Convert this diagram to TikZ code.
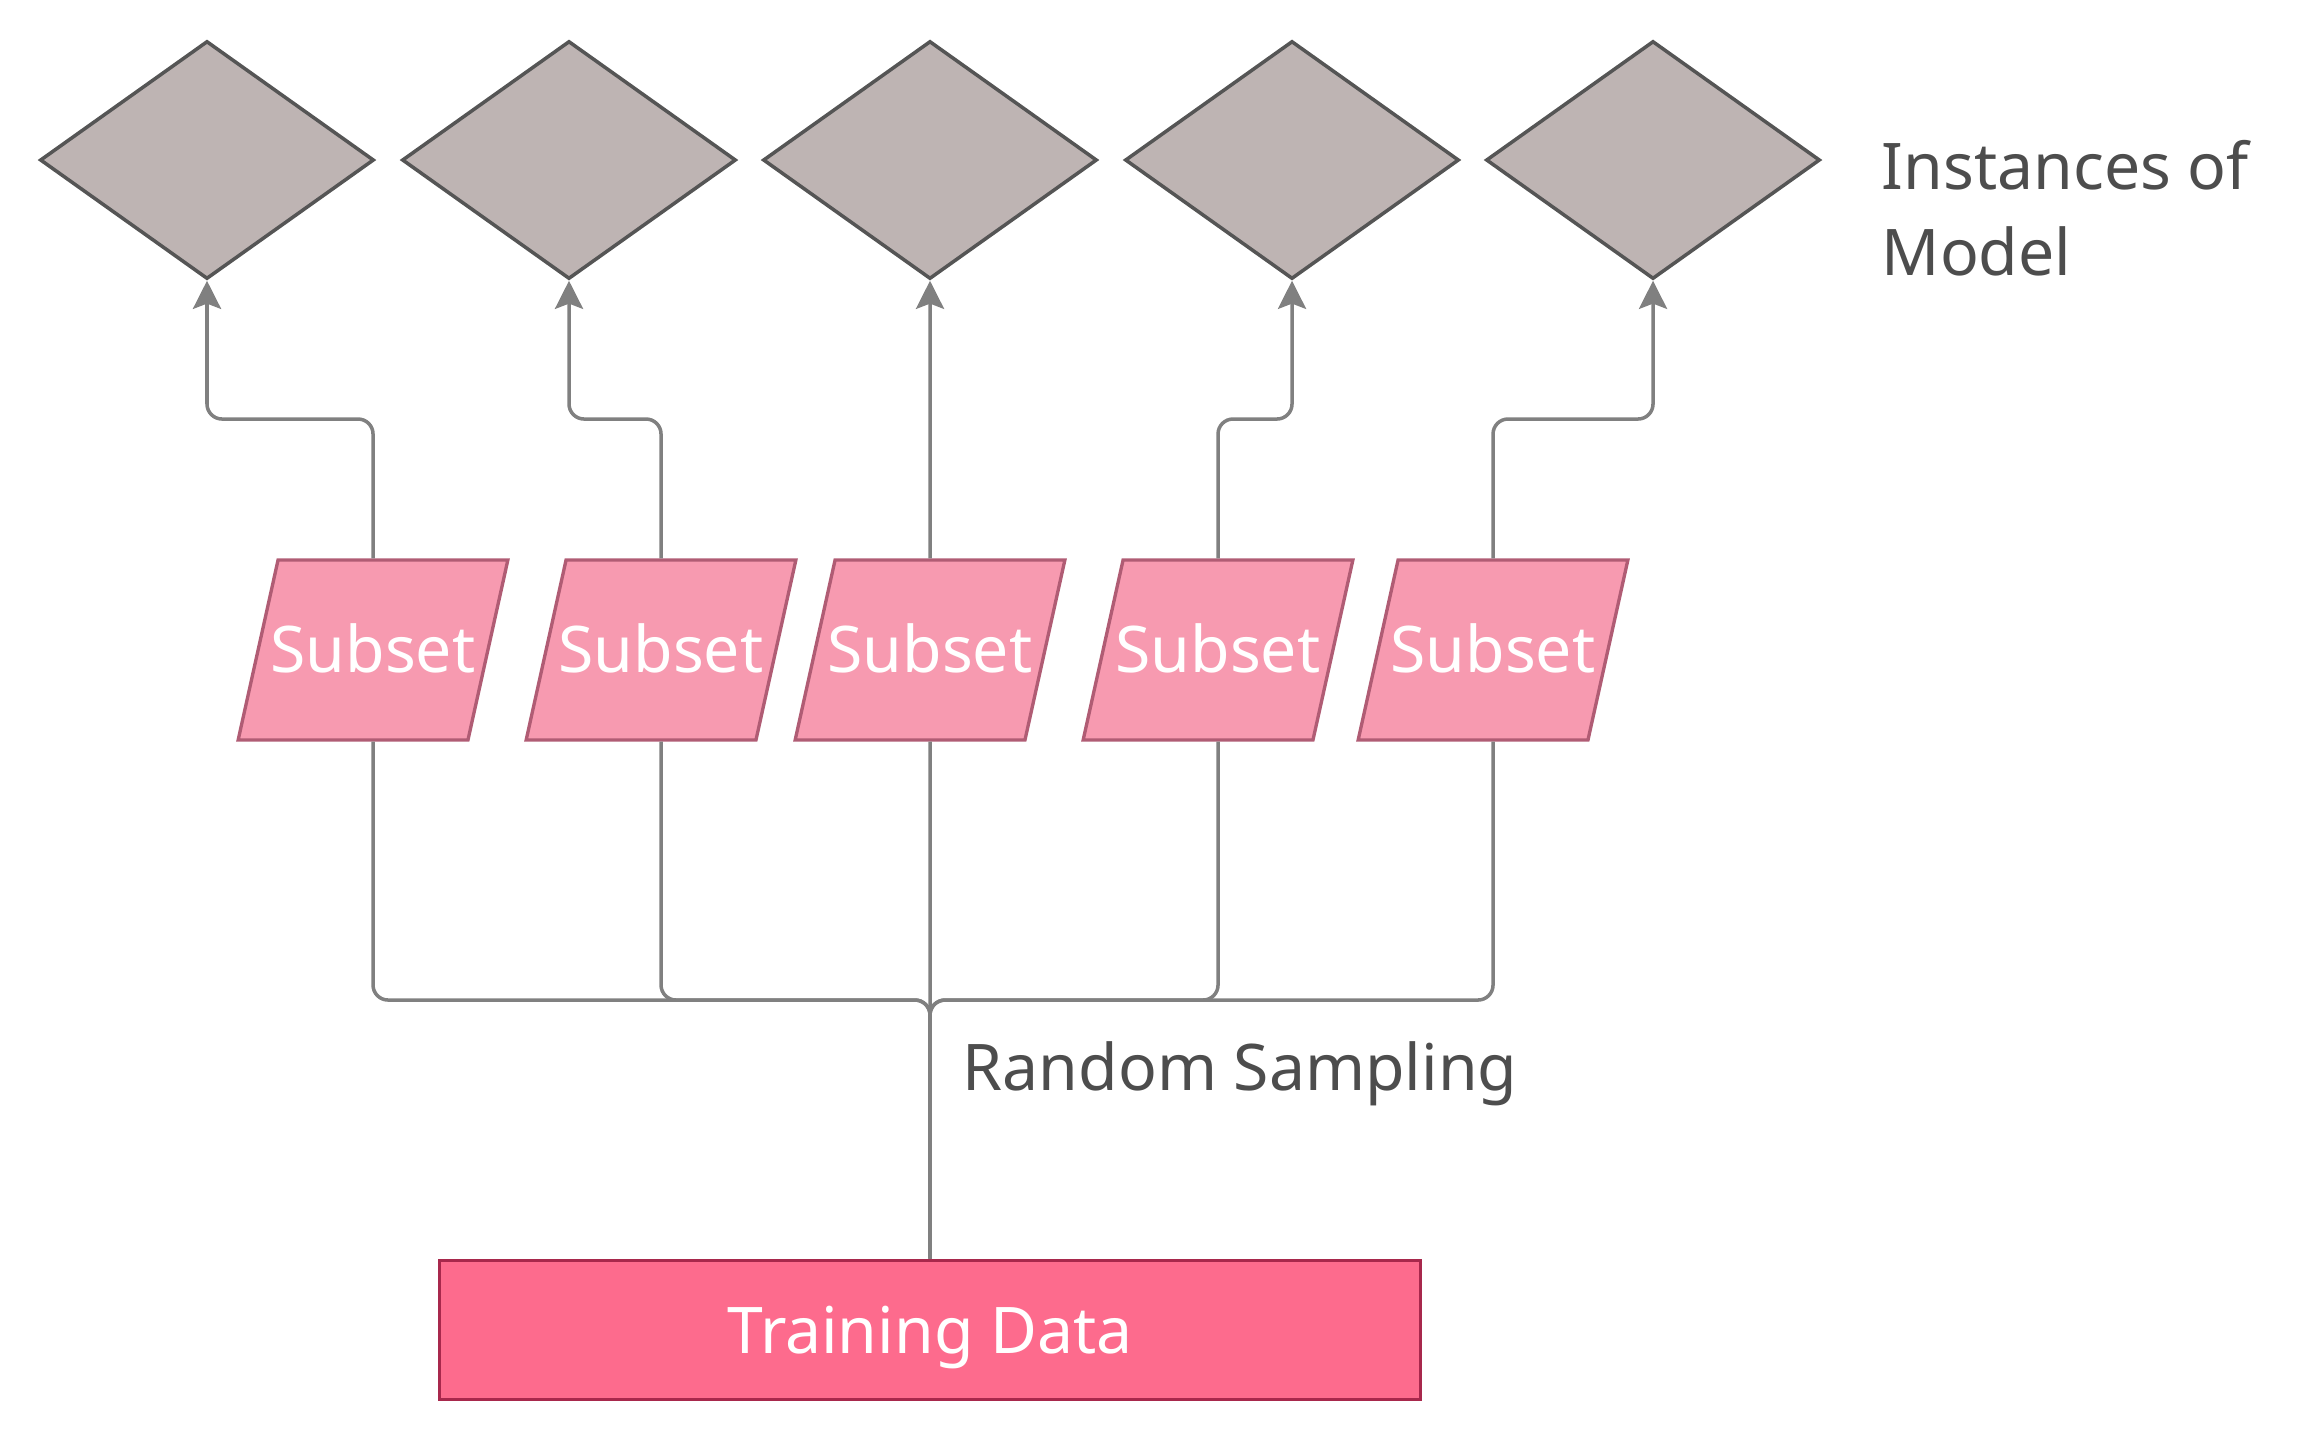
\documentclass[tikz,border=0pt]{standalone}
\usepackage{fontspec}
\setmainfont{Noto Sans}
\usetikzlibrary{arrows.meta, shapes.geometric}

\definecolor{modelfill}{HTML}{BEB4B3}
\definecolor{modeldraw}{HTML}{555555}
\definecolor{subfill}{HTML}{F79AB0}
\definecolor{subdraw}{HTML}{B05C74}
\definecolor{datafill}{HTML}{FD6B8D}
\definecolor{datadraw}{HTML}{A8284C}
\definecolor{linkgray}{HTML}{808080}
\definecolor{labelgray}{HTML}{4D4D4D}

\begin{document}
\begin{tikzpicture}[x=0.1mm, y=-0.1mm, >={Stealth[length=8pt, width=8pt, inset=1.5pt]},
	model/.style={diamond, draw=modeldraw, fill=modelfill, line width=1pt, minimum width=33.4mm, minimum height=23.8mm, inner sep=0pt},
	subset/.style={trapezium, trapezium left angle=77.5, trapezium right angle=102.5, draw=subdraw, fill=subfill, line width=0.95pt, text height=13pt, text depth=0pt, inner xsep=-0.75mm, inner ysep=19.1pt, text=white, font=\fontsize{18.3}{22}\selectfont},
	data/.style={rectangle, draw=datadraw, fill=datafill, line width=1.1pt, minimum width=98.1mm, minimum height=13.9mm, text depth=0pt, text=white, font=\fontsize{18.3}{22}\selectfont},
	link/.style={draw=linkgray, line width=1pt, rounded corners=1.5mm},
	caption/.style={text=labelgray, inner sep=0pt, font=\fontsize{18.3}{24.4}\selectfont}]
				\useasboundingbox (0,0) rectangle (2320,1441);

				% Modelli
				\node[model] (m1) at (207,160) {};
				\node[model] (m2) at (569,160) {};
				\node[model] (m3) at (930,160) {};
				\node[model] (m4) at (1292,160) {};
				\node[model] (m5) at (1653,160) {};
				\node[caption, anchor=west, align=left] (inst) at (1881,208) {Instances of\\Model};

				% Sottoinsiemi
				\node[subset] (s1) at (373,650) {Subset};
				\node[subset] (s2) at (661,650) {Subset};
				\node[subset] (s3) at (930,650) {Subset};
				\node[subset] (s4) at (1218,650) {Subset};
				\node[subset] (s5) at (1493,650) {Subset};

				% Dati
				\node[data] (data) at (930,1330) {Training Data};
				\node[caption, anchor=base west] (rs) at (962,1090) {Random Sampling};

				\coordinate (up) at (0,419);
				\coordinate (down) at (0,1000);

				% Verso i modelli
				\draw[link, ->] (s1.north) |- (m1.south |- up) -- (m1.south);
				\draw[link, ->] (s2.north) |- (m2.south |- up) -- (m2.south);
				\draw[link, ->] (s3.north) -- (m3.south);
				\draw[link, ->] (s4.north) |- (m4.south |- up) -- (m4.south);
				\draw[link, ->] (s5.north) |- (m5.south |- up) -- (m5.south);

				% Campionamento
				\draw[link] (s1.south) |- (data.north |- down) -- (data.north);
				\draw[link] (s2.south) |- (data.north |- down) -- (data.north);
				\draw[link] (s3.south) -- (data.north);
				\draw[link] (s4.south) |- (data.north |- down) -- (data.north);
				\draw[link] (s5.south) |- (data.north |- down) -- (data.north);
			\end{tikzpicture}
\end{document}
